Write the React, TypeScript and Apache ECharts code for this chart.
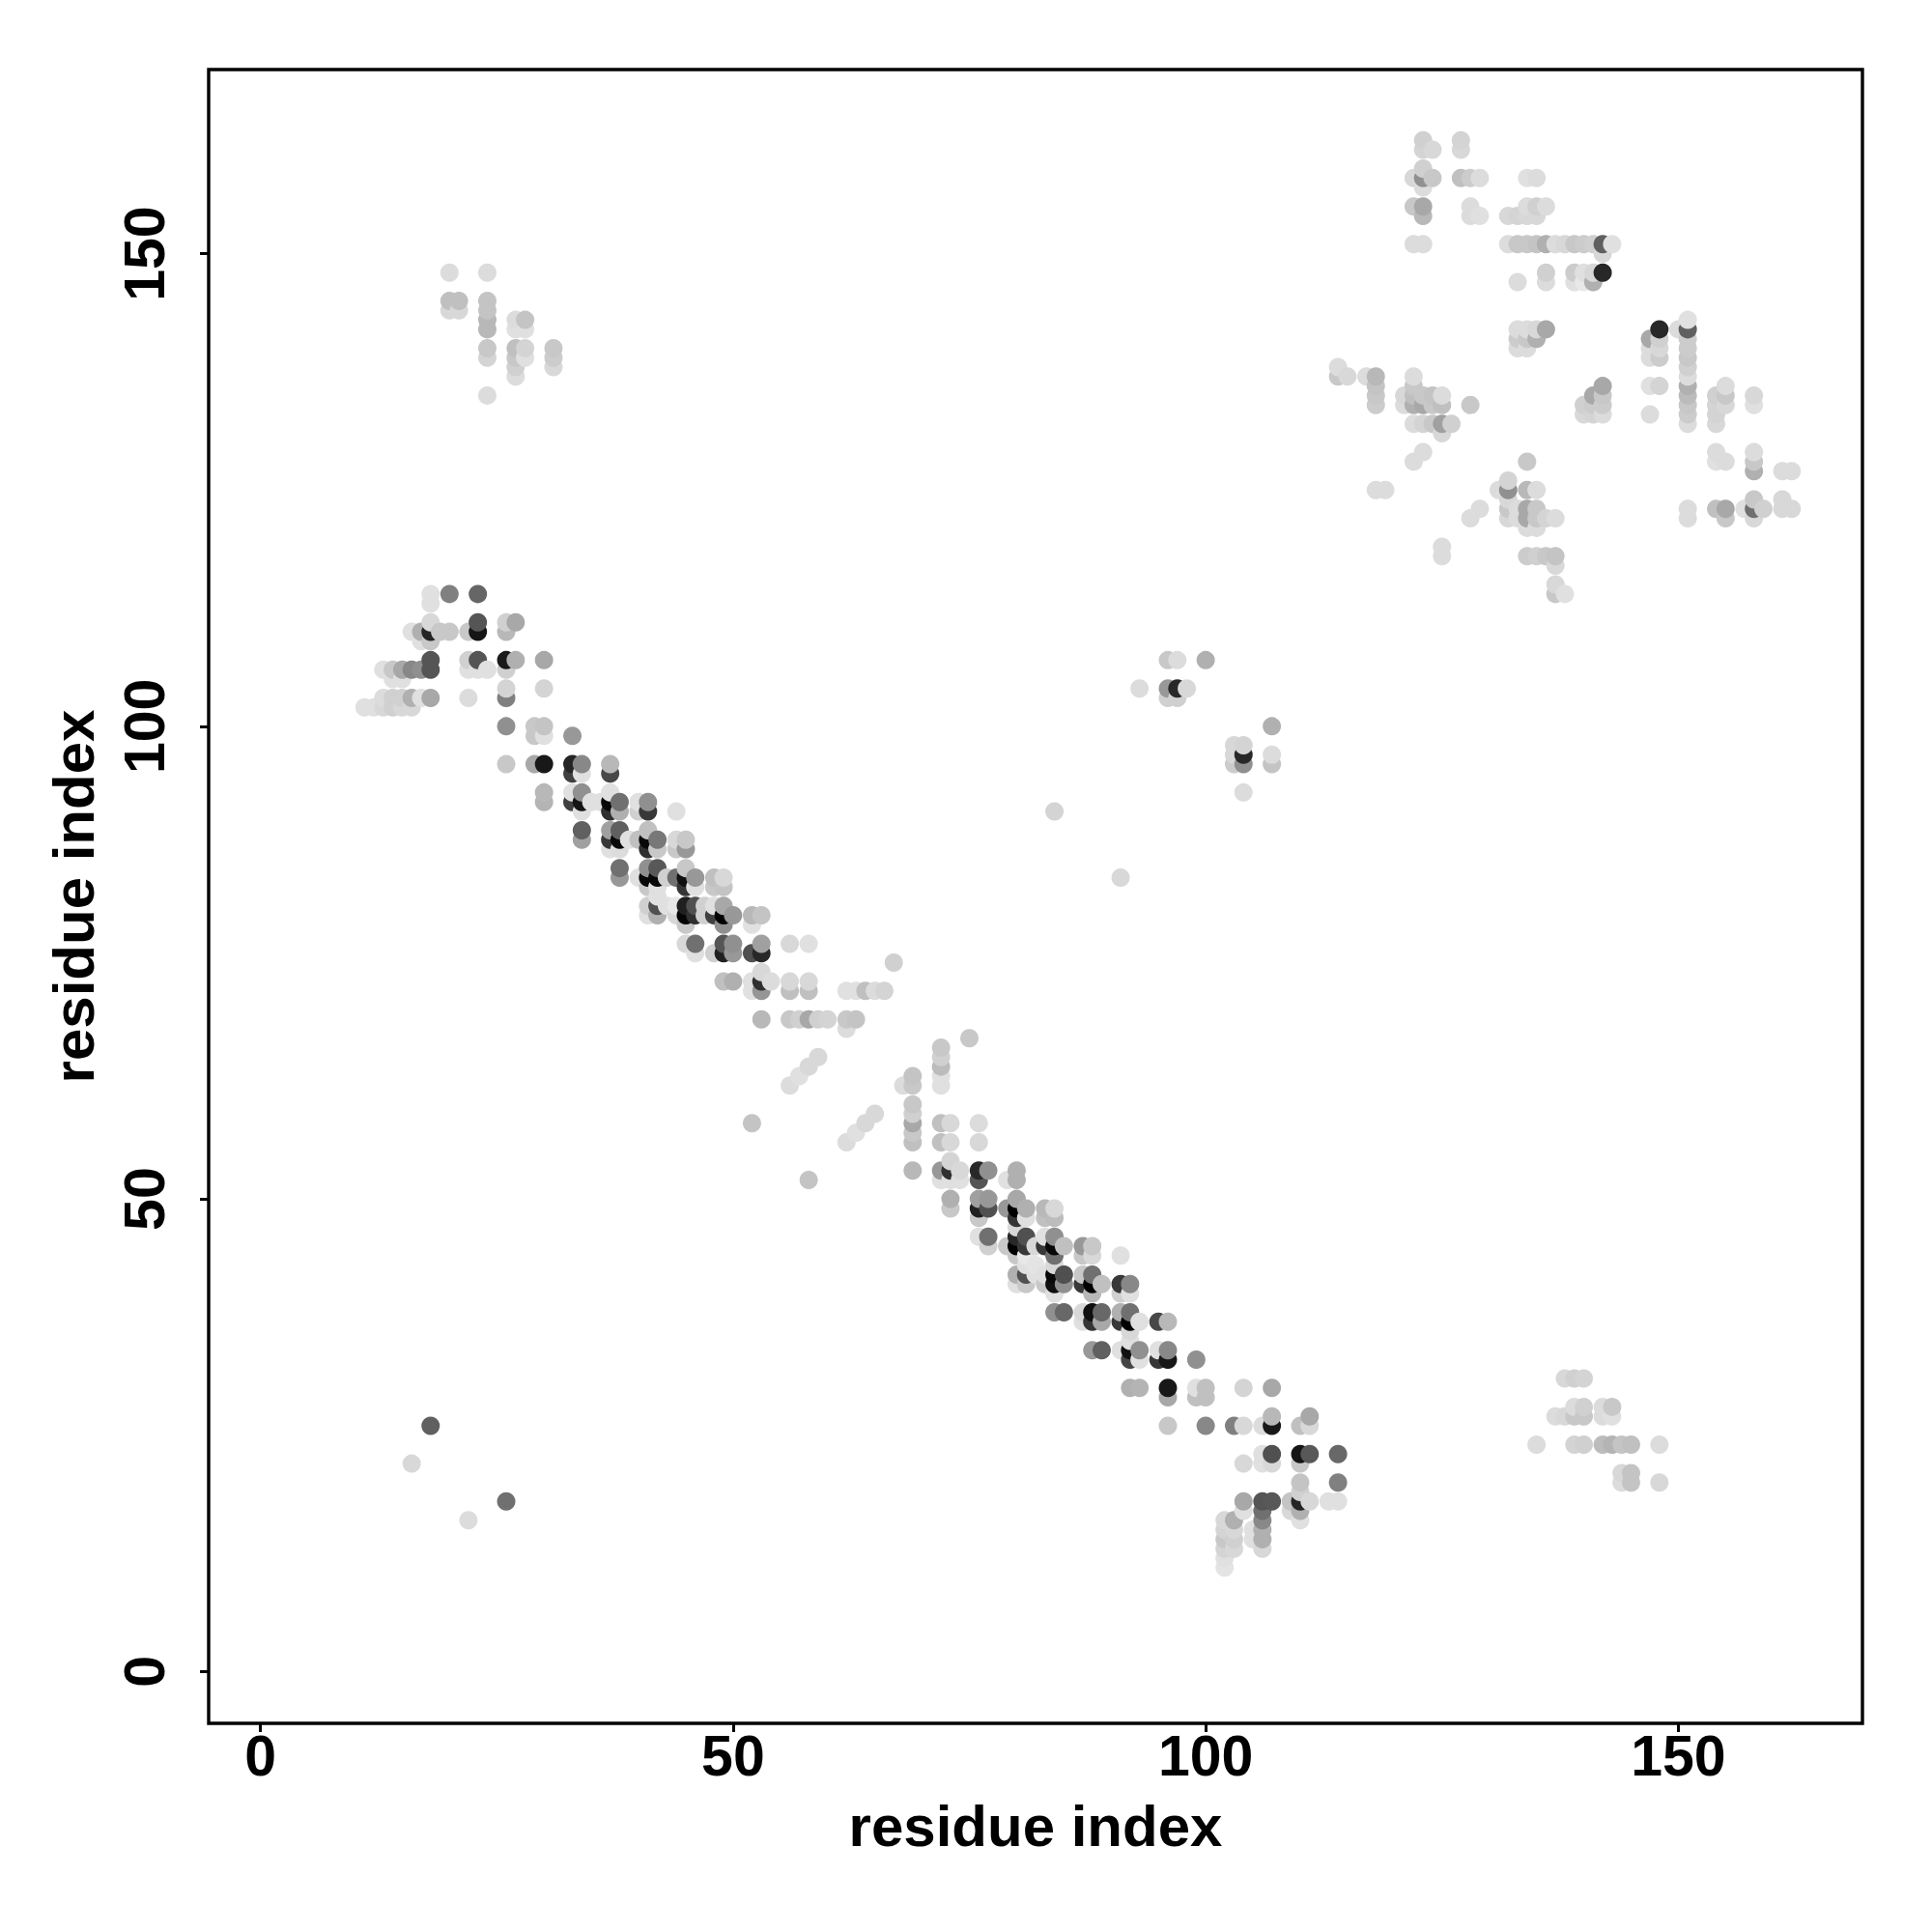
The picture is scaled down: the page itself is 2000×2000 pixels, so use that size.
import React, { useEffect, useRef } from "react";
import * as echarts from "echarts";

// Each row: [y, x, gray, x, gray, ...]; gray is the 0-255 level of the dot.
const topLeftCluster: number[][] = [
  [148,20,0xdc,24,0xdc],
  [145,20,0xc0,21,0xc0,24,0xc4],
  [144,20,0xd8,21,0xd8,24,0xc4],
  [143,24,0xb8,27,0xdc,28,0xc4],
  [142,24,0xb8,27,0xe0,28,0xe0],
  [140,24,0xc8,27,0xc0,28,0xd4,31,0xc8],
  [139,24,0xd4,27,0xc8,28,0xe0,31,0xcc],
  [138,27,0xd0,31,0xd8],
  [137,27,0xdc],
  [135,24,0xdc],
];
const upperDiagonal: number[][] = [
  [114,18,0xe0,20,0x80,23,0x66],
  [113,18,0xe0],
  [111,18,0xd8,23,0x55,26,0xd0,27,0xa8],
  [110,16,0xe0,17,0xb0,18,0x25,19,0xc8,20,0xc8,22,0xc8,23,0x15,26,0xb8],
  [109,17,0xe0,18,0xc8],
  [107,18,0x55,22,0xd0,23,0x55,26,0x1a,27,0xb0,30,0xa8],
  [106,13,0xe0,14,0xc8,15,0xa8,16,0x88,17,0x90,18,0x55,22,0xe0,23,0xe0,24,0xe0,26,0xd0],
  [105,14,0xe0,15,0xe0],
  [104,26,0xd4,30,0xd4],
  [103,13,0xdc,14,0xd0,15,0xd0,16,0xb0,17,0xe0,18,0xa8,22,0xdc,26,0x80],
  [102,11,0xe0,12,0xe0,13,0xd8,14,0xd0,15,0xd8,16,0xd8],
  [100,26,0x90,29,0xc8,30,0xc4],
  [99,29,0xc8,30,0xe0,33,0x98],
  [96,26,0xc8,29,0xa8,30,0x18,33,0x25,34,0x88,37,0xb8],
  [95,33,0x40,34,0xe0,37,0x48],
  [93,30,0xb8,33,0xe0,34,0x90,37,0xe0],
  [92,30,0xb4,33,0x40,34,0x15,35,0xe0,36,0xe0,37,0x08,38,0x70,40,0xe0,41,0x90],
  [91,34,0xe0,37,0x30,38,0xb0,40,0xd0,41,0x38,44,0xe0],
  [89,34,0x60,37,0xa0,38,0x60,41,0xc0],
  [88,34,0xa0,37,0x38,38,0x08,39,0xe0,40,0xc0,41,0x08,42,0x78,44,0xd8,45,0xc8],
  [87,37,0xe0,38,0xdc,41,0x30,42,0xc8,44,0xc8,45,0x98],
  [85,38,0x70,41,0x90,42,0x58,45,0xc8],
  [84,38,0x98,40,0xe0,41,0x08,42,0x08,43,0xd0,44,0x70,45,0x10,46,0x98,48,0xc0,49,0xd8],
  [83,41,0xc8,42,0xe0,45,0x35,46,0xe0,48,0xc8,49,0xc4],
  [82,42,0xe0],
  [81,41,0xd0,42,0x50,43,0xe0,44,0xe8,45,0x20,46,0x50,47,0xd0,48,0xe0,49,0xa8],
  [80,41,0xe0,42,0xb0,44,0xd8,45,0x05,46,0x30,47,0xd0,48,0x40,49,0x00,50,0x98,52,0xb8,53,0xc4],
  [79,45,0xc8,49,0x90,52,0xe0],
  [77,45,0xd8,46,0x70,49,0x55,50,0x90,53,0xa0,56,0xd8,58,0xe0],
  [76,46,0xe0,48,0xd0,49,0x20,50,0x98,52,0x50,53,0x28],
  [75,67,0xd0],
  [74,53,0xd8],
  [73,49,0xc0,50,0xb0,52,0xe0,53,0x30,54,0xdc,56,0xd8,58,0xd8],
  [72,52,0xe0,53,0x95,56,0xc0,58,0xc0,62,0xe0,63,0xe0,64,0xc0,65,0xdc,66,0xd4],
  [69,53,0xb8,56,0xc8,57,0xd0,58,0xa8,59,0xd0,60,0xd4,62,0xc8,63,0xc4],
  [68,62,0xdc],
  [65,59,0xd8],
  [64,58,0xd8],
  [63,57,0xe0],
  [62,56,0xdc],
];
const lowerDiagonal: number[][] = [
  [67,75,0xc8],
  [66,72,0xc8],
  [65,72,0xd0],
  [64,72,0xbc],
  [63,69,0xc4,72,0xe0],
  [62,68,0xdc,69,0xc8,72,0xe0],
  [60,69,0xc8],
  [59,65,0xd8,69,0xd0],
  [58,52,0xc4,64,0xd8,69,0xa8,72,0xc0,73,0xd8,76,0xdc],
  [57,63,0xe0,69,0xc8],
  [56,62,0xdc,69,0xc0,72,0xc0,73,0xd8,76,0xd8],
  [54,73,0xd4],
  [53,69,0xb8,72,0x98,73,0x30,74,0xd8,76,0x28,77,0x90,80,0xb0],
  [52,58,0xc4,72,0xe0,73,0xe0,74,0xe0,76,0x55,79,0xe0,80,0xb0],
  [50,73,0xb0,76,0xa0,77,0x98,80,0xa8],
  [49,73,0xc8,76,0x20,77,0x50,79,0x98,80,0x00,81,0xb0,83,0xb8,84,0xd8],
  [48,76,0xc8,80,0x35,81,0xe0,83,0xc0,84,0xbc],
  [47,80,0xd8],
  [46,76,0xe0,77,0x70,80,0x28,81,0x50,83,0xe0,84,0x90],
  [45,77,0xd0,79,0xc8,80,0x00,81,0x38,82,0xd8,83,0x38,84,0x08,85,0xc0,87,0x98,88,0xc8],
  [44,80,0xc8,81,0xe8,84,0x70,87,0xc8,88,0xd8,91,0xe0],
  [43,81,0xe0,82,0xe4,84,0xd8],
  [42,80,0xb0,81,0x50,82,0xe0,83,0xe0,84,0x08,85,0x50,87,0xc8,88,0x70],
  [41,80,0xe0,81,0xc8,83,0xc8,84,0x10,85,0x90,87,0x38,88,0x00,89,0xc0,91,0x38,92,0x88],
  [40,84,0xe0,88,0xb8,91,0xd0,92,0xe0],
  [38,84,0x90,85,0x68,87,0xd8,88,0x10,89,0x68,91,0xb0,92,0x70],
  [37,87,0xe0,88,0x35,89,0xa8,91,0x38,92,0x00,93,0xe0,95,0x48,96,0xb8],
  [36,92,0xd8],
  [35,92,0xe0],
  [34,88,0x98,89,0x60,91,0xe0,92,0x10,93,0x90,95,0xe0,96,0x88],
  [33,92,0x45,93,0xe0,95,0x38,96,0x18,99,0x90],
  [30,92,0xb0,93,0xb4,96,0x18,99,0xe0,100,0xc0,104,0xd4,107,0xa8],
  [29,96,0xa8,99,0xc0,100,0xc0],
  [27,107,0xb8,111,0xa8],
  [26,18,0x60,96,0xc8,100,0x88,103,0x80,104,0xd8,106,0xdc,107,0x18,110,0xc0,111,0xd8],
  [23,106,0xe0,107,0x50,110,0x15,111,0x58,114,0x68],
  [22,16,0xd8,104,0xd8,106,0xe0,107,0xd8,110,0xc8],
  [20,110,0xc4,114,0x80],
  [19,110,0xd0],
  [18,26,0x70,104,0xa8,106,0x55,107,0x58,109,0xc4,110,0x25,111,0xd8,113,0xe0,114,0xe0],
  [17,104,0xe0,106,0x70,109,0xd8,110,0xb0],
  [16,22,0xdc,102,0xd8,103,0xb0,106,0x88,110,0xe0],
  [15,102,0xd4,103,0xd8,105,0xe0,106,0xb0],
  [14,102,0xc8,103,0xd0,105,0xe0,106,0xb0],
  [13,102,0xd4,103,0xd8,106,0xd8],
  [12,102,0xe0],
  [11,102,0xe4],
];
const middleCluster: number[][] = [
  [107,96,0xc8,97,0xdc,100,0xb0],
  [104,93,0xdc,96,0x98,97,0x28,98,0xd8],
  [103,96,0xd0,97,0xd0],
  [100,107,0xb0],
  [98,103,0xd8,104,0xd4],
  [97,103,0xd8,104,0x28,107,0xdc],
  [96,103,0xcc,104,0x90,107,0xc4],
  [93,104,0xdc],
  [91,84,0xd4],
  [84,91,0xd8],
];
const topRightCluster: number[][] = [
  [162,123,0xd0,127,0xd4],
  [161,123,0xd4,124,0xd8,127,0xd8],
  [159,123,0xd0],
  [158,122,0xd8,123,0x90,124,0xc8,127,0xc0,128,0xcc,129,0xdc,134,0xe0,135,0xdc],
  [157,123,0xdc],
  [155,122,0xc8,123,0xa8,128,0xdc,134,0xdc,135,0xd0,136,0xdc],
  [154,123,0xb8,128,0xdc,129,0xe0,132,0xd8,133,0xd4,134,0xd8,135,0xd8],
  [151,122,0xdc,123,0xdc,132,0xdc,133,0xc8,134,0xc8,135,0xc4,136,0xb0,137,0xdc,138,0xd8,139,0xc8,140,0xcc,141,0xd0,142,0x60,143,0xe0],
  [150,142,0xd8],
  [148,136,0xd0,139,0xcc,140,0xe0,141,0xd8,142,0x28],
  [147,133,0xdc,136,0xdc,139,0xe0,140,0xe8,141,0xb0],
  [143,151,0xe0],
  [142,133,0xdc,134,0xdc,135,0xd8,136,0xa8,148,0x28,150,0xdc,151,0x60],
  [141,133,0xcc,134,0xc8,135,0xb0,147,0xa8,148,0xd0,151,0xcc],
  [140,133,0xdc,134,0xdc,147,0xdc,148,0xd8,151,0xcc],
  [139,147,0xdc,148,0xcc,151,0xc8],
  [138,114,0xdc,151,0xd0],
  [137,114,0xc8,115,0xd8,117,0xdc,118,0xb8,122,0xdc,151,0xdc],
  [136,118,0xc4,122,0xc8,142,0xa8,147,0xe0,148,0xd4,151,0xb0,155,0xdc],
  [135,118,0xc8,121,0xd8,122,0xc0,123,0xc8,124,0xc4,125,0xdc,141,0xa8,142,0xc8,151,0xbc,154,0xd0,155,0xc8,158,0xd8],
  [134,118,0xcc,121,0xdc,122,0xb0,123,0xa8,124,0xc8,125,0xc0,128,0xc8,140,0xd0,141,0xcc,142,0xcc,151,0xc8,154,0xd4,155,0xd8,158,0xe0],
  [133,140,0xd8,141,0xd4,142,0xdc,147,0xdc,151,0xcc,154,0xd4],
  [132,122,0xdc,123,0xd4,124,0xc8,125,0xa0,126,0xd0,151,0xdc,154,0xd8],
  [131,125,0xd8],
  [129,123,0xdc,154,0xdc,158,0xdc],
  [128,122,0xdc,134,0xc8,154,0xe0,155,0xdc,158,0xc8],
  [127,158,0xb0,161,0xdc,162,0xdc],
  [126,132,0xd4],
  [125,118,0xdc,119,0xdc,131,0xdc,132,0x90,134,0xb8,135,0xdc],
  [124,132,0xd8,158,0xc8,161,0xd8],
  [123,129,0xdc,132,0xc8,133,0xdc,134,0xa8,135,0xc8,151,0xdc,154,0xc0,155,0xa8,157,0xe0,158,0x70,159,0xd0,161,0xd8,162,0xd8],
  [122,128,0xdc,132,0xd8,133,0xdc,134,0xa8,135,0xc8,136,0xd4,137,0xdc,151,0xdc,155,0xc8,158,0xd8],
  [121,134,0xdc,135,0xdc],
  [119,125,0xdc],
  [118,125,0xdc,134,0xcc,135,0xd0,136,0xc8,137,0xc4],
  [117,137,0xd8],
  [115,137,0xd8],
  [114,137,0xc8,138,0xe0],
];
const bottomRightCluster: number[][] = [
  [31,138,0xd8,139,0xd0,140,0xd4],
  [28,139,0xdc,140,0xd0,142,0xdc,143,0xc8],
  [27,137,0xdc,138,0xd8,139,0xc8,140,0xc8,142,0xdc,143,0xe0],
  [24,135,0xdc,139,0xd4,140,0xd0,142,0xbc,143,0xb4,144,0xc4,145,0xc0,148,0xdc],
  [21,144,0xd8,145,0xc4],
  [20,144,0xdc,145,0xc4,148,0xd8],
];

const tickValues = [0, 50, 100, 150];
const axisTitle = "residue index";
const axisMin = -5.48;
const axisMax = 169.48;

const rows = [
  ...topLeftCluster,
  ...upperDiagonal,
  ...lowerDiagonal,
  ...middleCluster,
  ...topRightCluster,
  ...bottomRightCluster,
];

// The reference paints in residue order: later x, then later y, lands on top.
const triples: number[][] = [];
for (const [y, ...cells] of rows) {
  for (let i = 0; i < cells.length; i += 2) triples.push([cells[i], y, cells[i + 1]]);
}
triples.sort((a, b) => a[0] - b[0] || a[1] - b[1]);

const FONT = "'Liberation Sans', Arial, sans-serif";

function axis(rotate: number, labelMargin: number, nameRotate: number, nameGap: number) {
  return {
    type: "value" as const,
    min: axisMin,
    max: axisMax,
    name: axisTitle,
    nameLocation: "middle" as const,
    nameGap,
    nameRotate,
    nameTextStyle: { fontFamily: FONT, fontWeight: "bold" as const, fontSize: 60, color: "#000" },
    splitLine: { show: false },
    axisLine: { show: false, onZero: false },
    axisTick: {
      show: true,
      length: 9,
      customValues: tickValues,
      lineStyle: { color: "#000", width: 3 },
    },
    axisLabel: {
      show: true,
      rotate,
      margin: labelMargin,
      customValues: tickValues,
      fontFamily: FONT,
      fontWeight: "bold" as const,
      fontSize: 59,
      color: "#000",
      hideOverlap: false,
    },
  };
}

export default function App() {
  const ref = useRef<HTMLDivElement>(null);
  useEffect(() => {
    const chart = echarts.init(ref.current!, undefined, { renderer: "svg" });
    chart.setOption({
      animation: false,
      backgroundColor: "#fff",
      grid: {
        show: true,
        left: 216,
        top: 72,
        width: 1712,
        height: 1712,
        borderColor: "#000",
        borderWidth: 3.4,
        backgroundColor: "transparent",
        containLabel: false,
      },
      xAxis: axis(0, 4, 0, 76),
      yAxis: axis(90, 37, 90, 110),
      series: [
        {
          type: "scatter",
          symbol: "circle",
          symbolSize: 19,
          silent: true,
          clip: true,
          data: triples.map(([x, y, g]) => ({
            value: [x, y],
            itemStyle: { color: `rgb(${g},${g},${g})`, opacity: 1 },
          })),
        },
      ],
    });
    return () => chart.dispose();
  }, []);
  return (
    <div
      ref={ref}
      style={{ position: "absolute", left: 0, top: 0, width: 2000, height: 2000, background: "#fff" }}
    />
  );
}
